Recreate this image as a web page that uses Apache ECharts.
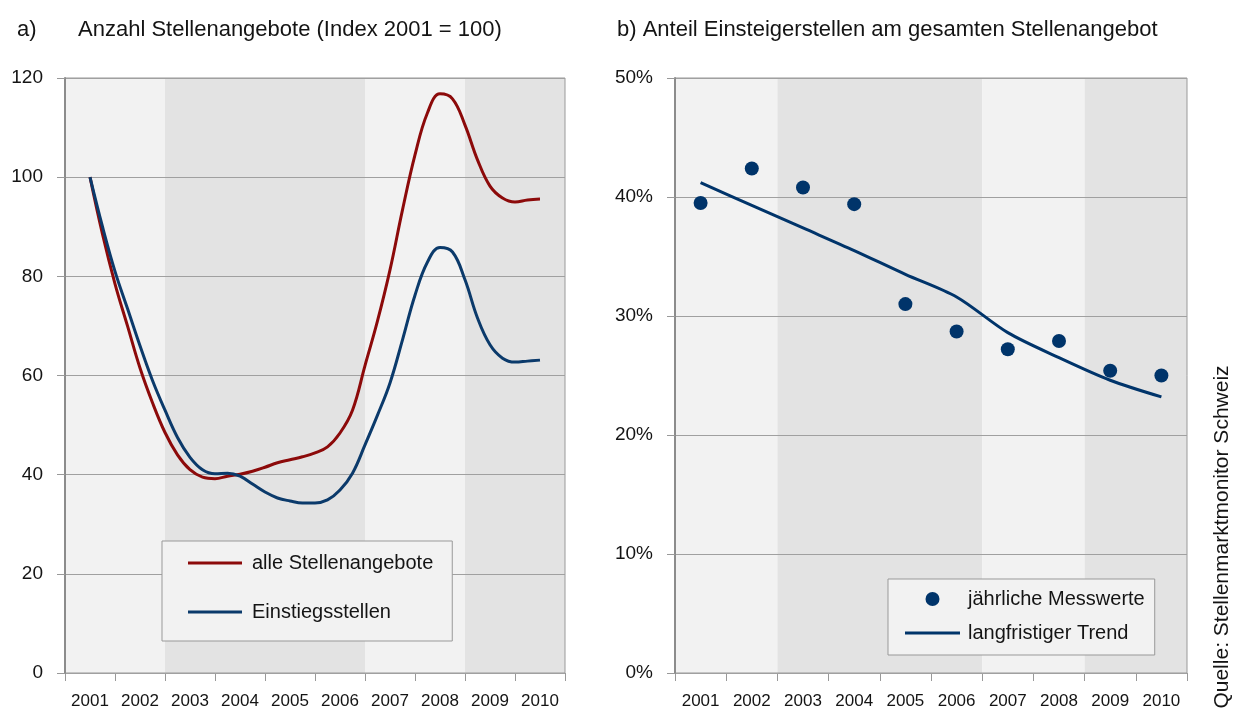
<!DOCTYPE html>
<html>
<head>
<meta charset="utf-8">
<script src="https://cdn.jsdelivr.net/npm/echarts@6/dist/echarts.min.js"></script>
<style>
html, body { margin: 0; padding: 0; background: #fff; }
#main { width: 1243px; height: 713px; }
</style>
</head>
<body>
<div id="main"></div>
<script>
// Jahre (Kategorien)
const years = ['2001', '2002', '2003', '2004', '2005', '2006', '2007', '2008', '2009', '2010']

// a) Index, quartalsweise abgelesen
const quarterX = [2001.5, 2001.75, 2002, 2002.25, 2002.5, 2002.75, 2003, 2003.25, 2003.5, 2003.75,
    2004, 2004.25, 2004.5, 2004.75, 2005, 2005.25, 2005.5, 2005.75, 2006, 2006.25,
    2006.5, 2006.75, 2007, 2007.25, 2007.5, 2007.75, 2008, 2008.25, 2008.5, 2008.75,
    2009, 2009.25, 2009.5, 2009.75, 2010, 2010.25, 2010.5]
const alleStellen = [100, 88.5, 78.5, 70, 61.5, 54.5, 48.5, 44, 41, 39.5,
    39.2, 39.7, 40.1, 40.7, 41.5, 42.4, 43, 43.6, 44.4, 45.6,
    48.4, 53, 62, 71, 81.3, 93.4, 104.5, 113, 116.8, 115.8,
    110.5, 103.5, 98.2, 95.8, 95, 95.4, 95.6]
const einstieg = [100, 90, 81, 73.5, 66, 59, 53, 47.5, 43.5, 41,
    40.2, 40.3, 39.7, 38.1, 36.5, 35.3, 34.7, 34.3, 34.3, 34.9,
    36.9, 40.3, 46, 52, 58.5, 67.2, 76.2, 82.9, 85.8, 84.9,
    79.3, 71.6, 66.2, 63.5, 62.7, 62.9, 63.1]

// b) Anteil in %
const messwerte = [39.5, 42.4, 40.8, 39.4, 31.0, 28.7, 27.2, 27.9, 25.4, 25.0]
const trend = [41.2, 39.3, 37.4, 35.5, 33.5, 31.6, 28.6, 26.5, 24.6, 23.2]

const red = '#8c0a0a'
const blue = '#0b3a6b'
const dotBlue = '#00346a'
const light = '#f2f2f2'
const dark = '#e3e3e3'
const bandColors = [light, light, dark, dark, dark, dark, light, light, dark, dark]
const font = '"Liberation Sans", Arial, sans-serif'
const txt = '#141414'

const chart = echarts.init(document.getElementById('main'))

const catAxis = (grid) => ({
    type: 'category',
    gridIndex: grid,
    data: years,
    z: 0,
    boundaryGap: true,
    axisLine: { show: true, lineStyle: { color: '#999', width: 1 } },
    axisTick: { show: true, length: 8, lineStyle: { color: '#999' } },
    axisLabel: { color: txt, fontSize: 17, fontFamily: font, margin: 20, interval: 0 },
    splitArea: { show: true, areaStyle: { color: bandColors } },
    splitLine: { show: false }
})

const valAxis = (grid, max, fmt) => ({
    type: 'value',
    gridIndex: grid,
    z: 1,
    min: 0,
    max: max,
    interval: max / (max === 120 ? 6 : 5),
    axisLine: { show: true, lineStyle: { color: '#8c8c8c', width: 2 } },
    axisTick: { show: true, length: 8, lineStyle: { color: '#999' } },
    axisLabel: { color: txt, fontSize: 19, fontFamily: font, margin: 22, formatter: fmt },
    splitLine: { show: true, lineStyle: { color: '#a0a0a0', width: 1 } }
})

const titleStyle = { fontSize: 22, fontWeight: 'normal', color: txt, fontFamily: font }

const option = {
    backgroundColor: '#fff',
    animation: false,
    title: [
        { text: 'a)', left: 12, top: 14, textStyle: titleStyle },
        { text: 'Anzahl Stellenangebote (Index 2001 = 100)', left: 73, top: 14, textStyle: titleStyle },
        { text: 'b) Anteil Einsteigerstellen am gesamten Stellenangebot', left: 612, top: 14, textStyle: titleStyle }
    ],
    grid: [
        { left: 65, top: 78, width: 500, height: 595, show: true, z: 1, backgroundColor: 'transparent', borderColor: '#999', borderWidth: 1 },
        { left: 675, top: 78, width: 512, height: 595, show: true, z: 1, backgroundColor: 'transparent', borderColor: '#999', borderWidth: 1 }
    ],
    xAxis: [
        catAxis(0),
        { type: 'value', gridIndex: 0, min: 2001, max: 2011, show: false },
        catAxis(1)
    ],
    yAxis: [
        valAxis(0, 120),
        valAxis(1, 50, '{value}%')
    ],
    legend: [
        {
            data: [
                { name: 'alle Stellenangebote', icon: 'rect', itemStyle: { color: red, borderWidth: 0 } },
                { name: 'Einstiegsstellen', icon: 'rect', itemStyle: { color: blue, borderWidth: 0 } }
            ],
            orient: 'vertical',
            left: 162,
            top: 541,
            itemWidth: 54,
            itemHeight: 3,
            itemGap: 29,
            padding: [12, 19, 19, 26],
            backgroundColor: light,
            borderColor: '#999',
            borderWidth: 1,
            borderRadius: 0,
            selectedMode: false,
            textStyle: { fontSize: 20, color: txt, fontFamily: font, padding: [0, 0, 0, 5] }
        },
        {
            data: [
                { name: 'jährliche Messwerte', icon: 'circle', itemStyle: { color: dotBlue, borderWidth: 0 } },
                { name: 'langfristiger Trend', icon: 'path://M0,0L55,0L55,3L0,3Z', itemStyle: { color: dotBlue, borderWidth: 0 } }
            ],
            orient: 'vertical',
            left: 888,
            top: 579,
            itemWidth: 55,
            itemHeight: 14,
            itemGap: 14,
            padding: [10, 10, 12, 17],
            backgroundColor: light,
            borderColor: '#999',
            borderWidth: 1,
            borderRadius: 0,
            selectedMode: false,
            textStyle: { fontSize: 20, color: txt, fontFamily: font, padding: [0, 0, 0, 3] }
        }
    ],
    graphic: [
        {
            type: 'text',
            x: 1222,
            y: 537,
            rotation: Math.PI / 2,
            style: {
                text: 'Quelle: Stellenmarktmonitor Schweiz',
                fontSize: 21,
                fontFamily: font,
                fill: txt,
                textAlign: 'center',
                textVerticalAlign: 'middle'
            }
        }
    ],
    series: [
        {
            name: 'alle Stellenangebote',
            type: 'line',
            xAxisIndex: 1,
            yAxisIndex: 0,
            data: quarterX.map((x, i) => [x, alleStellen[i]]),
            smooth: 0.4,
            symbol: 'none',
            lineStyle: { color: red, width: 3 },
            itemStyle: { color: red },
            z: 3
        },
        {
            name: 'Einstiegsstellen',
            type: 'line',
            xAxisIndex: 1,
            yAxisIndex: 0,
            data: quarterX.map((x, i) => [x, einstieg[i]]),
            smooth: 0.4,
            symbol: 'none',
            lineStyle: { color: blue, width: 3 },
            itemStyle: { color: blue },
            z: 4
        },
        {
            name: 'jährliche Messwerte',
            type: 'scatter',
            xAxisIndex: 2,
            yAxisIndex: 1,
            data: messwerte,
            symbol: 'circle',
            symbolSize: 14,
            itemStyle: { color: dotBlue, opacity: 1 },
            z: 4
        },
        {
            name: 'langfristiger Trend',
            type: 'line',
            xAxisIndex: 2,
            yAxisIndex: 1,
            data: trend,
            smooth: 0.3,
            symbol: 'none',
            lineStyle: { color: dotBlue, width: 3 },
            itemStyle: { color: dotBlue },
            z: 3
        }
    ]
}

chart.setOption(option)
</script>
</body>
</html>
